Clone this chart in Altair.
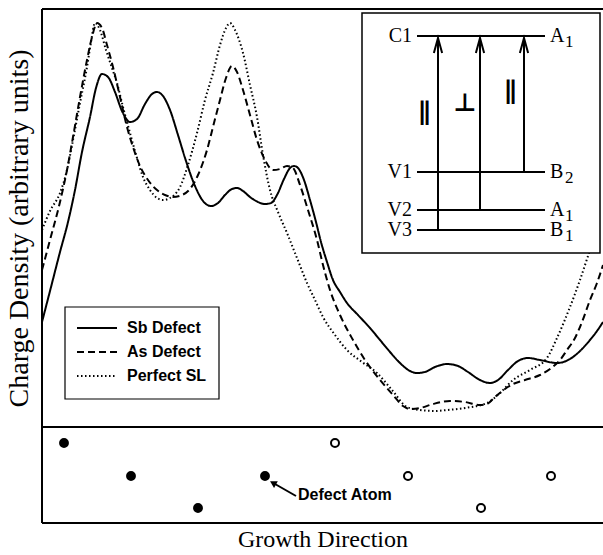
import altair as alt
import pandas as pd

# ---------------- data ----------------
series_names = ["Sb Defect", "As Defect", "Perfect SL"]

# position along growth direction (arb.) / charge density (arb. units)
sb_x = [0, 8, 18, 26, 33, 40, 48, 54, 60, 66, 73, 80, 88, 95, 103, 110, 115, 121, 128, 136, 144, 153, 161, 169,
        176, 183, 190, 195, 201, 208, 216, 223, 229, 235, 242, 248, 252, 256, 262, 268, 274, 279, 285, 291, 298,
        305, 316, 328, 338, 348, 358, 368, 375, 383, 393, 405, 416, 426, 438, 448, 456, 466, 476, 486, 498, 515,
        528, 538, 548, 555, 561]
sb_y = [105, 136, 175, 205, 237, 275, 310, 339, 353, 350, 335, 316, 305, 308, 323, 333, 335, 331, 317, 292, 266,
        241, 226, 221, 224, 232, 238, 239, 236, 230, 225, 223, 224, 232, 248, 259, 261, 259, 247, 227, 205, 185,
        165, 147, 135, 124, 112, 99, 87, 75, 64, 56, 54, 55, 60, 63, 61, 55, 47, 44, 47, 57, 66, 69, 67, 64, 68,
        76, 87, 96, 105]

as_x = [0, 8, 18, 25, 31, 38, 45, 50, 55, 60, 65, 71, 78, 85, 92, 98, 106, 115, 123, 131, 140, 148, 156, 165,
        172, 178, 184, 190, 195, 201, 208, 215, 223, 231, 238, 245, 251, 258, 266, 275, 281, 288, 298, 311, 323,
        338, 351, 361, 368, 378, 391, 408, 423, 438, 445, 453, 463, 471, 483, 498, 508, 518, 525, 533, 540, 548,
        555, 561]
as_y = [157, 187, 225, 257, 290, 330, 367, 390, 404, 399, 382, 360, 330, 300, 277, 261, 247, 237, 232, 230, 232,
        238, 252, 277, 304, 327, 349, 361, 355, 337, 312, 287, 267, 257, 258, 261, 259, 242, 217, 187, 162, 137,
        112, 87, 67, 47, 32, 21, 18, 19, 23, 26, 25, 22, 23, 30, 38, 43, 47, 52, 58, 67, 77, 89, 105, 127, 144,
        162]

sl_x = [0, 8, 18, 25, 31, 38, 45, 49, 53, 58, 64, 70, 75, 81, 88, 95, 101, 108, 115, 121, 128, 138, 146, 155,
        163, 171, 178, 184, 188, 193, 201, 208, 215, 221, 228, 236, 245, 255, 265, 273, 281, 293, 305, 320, 335,
        350, 365, 378, 393, 405, 423, 445, 458, 471, 488, 505, 515, 528, 538, 547, 555]
sl_y = [197, 216, 234, 257, 287, 324, 360, 385, 404, 397, 377, 359, 344, 320, 294, 269, 250, 237, 229, 227, 229,
        240, 262, 294, 327, 354, 382, 399, 404, 397, 374, 342, 310, 272, 237, 215, 194, 169, 144, 127, 110, 92,
        77, 65, 54, 37, 20, 17, 16, 17, 19, 24, 34, 47, 57, 69, 89, 120, 147, 174, 197]

# atoms along the growth direction (bottom strip)
atom_x = [22, 89, 156, 223, 293, 366, 439, 509]
atom_row = [80, 47, 15, 47, 80, 47, 15, 47]
atom_kind = ["filled", "filled", "filled", "filled", "open", "open", "open", "open"]

# "Defect Atom" annotation (bottom-strip units)
defect_label = ["Defect Atom"]
defect_label_x = [256]
defect_label_y = [28]
defect_arrow_x = [254, 233]
defect_arrow_y = [27, 39]

# inset: energy-level diagram (inset units)
inset_box_x = [0, 238]
inset_box_y = [0, 240]
level_names = ["C1", "V1", "V2", "V3"]
level_energy = [217, 81, 43, 23]
level_sym = ["A", "B", "A", "B"]
level_sub = ["1", "2", "1", "1"]
level_span = [55, 183]
trans_from = ["V3", "V2", "V1"]
trans_x = [76, 118, 162]
trans_pol = ["\u2225", "\u22a5", "\u2225"]
pol_x = [62, 103, 148]
pol_y = [141, 150, 162]

# legend placement (main-panel units)
legend_box_x = [23, 177]
legend_box_y = [28, 120]
legend_row_y = [99, 75, 51]
legend_sample_x = [35, 75]
legend_text_x = 85

# ---------------- tables ----------------
curve_df = pd.concat([
    pd.DataFrame({"series": series_names[0], "x": sb_x, "density": sb_y}),
    pd.DataFrame({"series": series_names[1], "x": as_x, "density": as_y}),
    pd.DataFrame({"series": series_names[2], "x": sl_x, "density": sl_y}),
], ignore_index=True)

leg_df = pd.DataFrame({"series": series_names, "density": legend_row_y,
                       "x": legend_sample_x[0], "x2": legend_sample_x[1], "tx": legend_text_x})
leg_box_df = pd.DataFrame({"x": [legend_box_x[0]], "x2": [legend_box_x[1]],
                           "density": [legend_box_y[0]], "density2": [legend_box_y[1]]})

atom_df = pd.DataFrame({"x": atom_x, "row": atom_row, "kind": atom_kind})
label_df = pd.DataFrame({"text": defect_label, "x": defect_label_x, "row": defect_label_y})
arrow_df = pd.DataFrame({"x": [defect_arrow_x[0]], "x2": [defect_arrow_x[1]],
                         "row": [defect_arrow_y[0]], "row2": [defect_arrow_y[1]]})
head_df = pd.DataFrame({"x": [defect_arrow_x[1] - 2], "row": [defect_arrow_y[1] + 1]})

energy_of = dict(zip(level_names, level_energy))
c1 = energy_of["C1"]
level_df = pd.DataFrame({"name": level_names, "E": level_energy, "sym": level_sym, "sub": level_sub,
                         "x0": level_span[0], "x1": level_span[1]})
trans_df = pd.DataFrame({"x": trans_x, "E0": [energy_of[n] for n in trans_from],
                         "E1": [c1 - 4] * len(trans_x), "Ehead": [c1 - 9.5] * len(trans_x)})
pol_df = pd.DataFrame({"text": trans_pol, "x": pol_x, "y": pol_y})
box_df = pd.DataFrame({"x0": [inset_box_x[0]], "x1": [inset_box_x[1]],
                       "y0": [inset_box_y[0]], "y1": [inset_box_y[1]]})

# ---------------- scales & axes ----------------
W, H = 561, 514
MAIN_H = 418
X_MAIN = alt.Scale(domain=[0, 561], range=[0, W], nice=False, zero=False)
Y_MAIN = alt.Scale(domain=[0, 418], range=[MAIN_H, 0], nice=False, zero=False)
Y_ATOM = alt.Scale(domain=[0, 96], range=[H, MAIN_H], nice=False, zero=False)
X_INSET = alt.Scale(domain=inset_box_x, range=[320, 558], nice=False, zero=False)
Y_INSET = alt.Scale(domain=inset_box_y, range=[244, 4], nice=False, zero=False)
DASH = alt.Scale(domain=series_names, range=[[1, 0], [7, 4], [1.5, 2.5]])
WIDTH = alt.Scale(domain=series_names, range=[2, 2, 1.5])

SERIF = "Liberation Serif"
SANS = "Liberation Sans"

AX_Y = alt.Axis(title="Charge Density (arbitrary units)", labels=False, ticks=False, domain=False,
                grid=False, titleFont=SERIF, titleFontSize=28, titleFontWeight="normal",
                titleColor="black", titlePadding=9, titleY=219)
AX_X = alt.Axis(title="Growth Direction", orient="bottom", labels=False, ticks=False, domain=False,
                grid=False, titleFont=SERIF, titleFontSize=24, titleFontWeight="normal",
                titleColor="black", titlePadding=4)

mx = lambda f: alt.X(f, scale=X_MAIN, axis=None)
my = lambda f: alt.Y(f, scale=Y_MAIN, axis=AX_Y)
sx = lambda f: alt.X(f, scale=X_MAIN, axis=AX_X)
sy = lambda f: alt.Y(f, scale=Y_ATOM, axis=None)
ix = lambda f: alt.X(f, scale=X_INSET, axis=None)
iy = lambda f: alt.Y(f, scale=Y_INSET, axis=None)

# ---------------- main curves + legend ----------------
curves = alt.Chart(curve_df).mark_line(interpolate="monotone", color="black").encode(
    x=mx("x:Q"), y=my("density:Q"),
    strokeDash=alt.StrokeDash("series:N", scale=DASH, legend=None),
    strokeWidth=alt.StrokeWidth("series:N", scale=WIDTH, legend=None),
)
leg_box = alt.Chart(leg_box_df).mark_rect(fill="white", stroke="black", strokeWidth=1.2).encode(
    x=mx("x:Q"), x2="x2:Q", y=my("density:Q"), y2="density2:Q")
leg_lines = alt.Chart(leg_df).mark_rule(color="black").encode(
    x=mx("x:Q"), x2="x2:Q", y=my("density:Q"),
    strokeDash=alt.StrokeDash("series:N", scale=DASH, legend=None),
    strokeWidth=alt.StrokeWidth("series:N", scale=WIDTH, legend=None),
)
leg_text = alt.Chart(leg_df).mark_text(align="left", baseline="middle", font=SANS, fontSize=16,
                                       fontWeight="bold", color="black").encode(
    x=mx("tx:Q"), y=my("density:Q"), text="series:N")
main = alt.layer(curves, leg_box, leg_lines, leg_text)

# ---------------- bottom strip ----------------
atoms = alt.Chart(atom_df).mark_circle(stroke="black", strokeWidth=2, opacity=1).encode(
    x=sx("x:Q"), y=sy("row:Q"),
    fill=alt.Fill("kind:N", scale=alt.Scale(domain=["filled", "open"], range=["black", "white"]), legend=None),
    size=alt.Size("kind:N", scale=alt.Scale(domain=["filled", "open"], range=[62, 64]), legend=None),
)
arrow_line = alt.Chart(arrow_df).mark_rule(color="black", strokeWidth=2).encode(
    x=sx("x:Q"), x2="x2:Q", y=sy("row:Q"), y2="row2:Q")
arrow_head = alt.Chart(head_df).mark_point(shape="triangle-up", filled=True, color="black",
                                           angle=299, size=60, opacity=1).encode(
    x=sx("x:Q"), y=sy("row:Q"))
atom_label = alt.Chart(label_df).mark_text(align="left", baseline="middle", font=SANS, fontSize=16,
                                           fontWeight="bold", color="black").encode(
    x=sx("x:Q"), y=sy("row:Q"), text="text:N")
strip = alt.layer(atoms, arrow_line, arrow_head, atom_label)

# ---------------- inset ----------------
box = alt.Chart(box_df).mark_rect(fill="white", stroke="black", strokeWidth=1.5).encode(
    x=ix("x0:Q"), x2="x1:Q", y=iy("y0:Q"), y2="y1:Q")
levels = alt.Chart(level_df).mark_rule(color="black", strokeWidth=2).encode(
    x=ix("x0:Q"), x2="x1:Q", y=iy("E:Q"))
left_lab = alt.Chart(level_df).mark_text(align="right", baseline="middle", font=SERIF, fontSize=20,
                                         color="black", dx=-5).encode(
    x=ix("x0:Q"), y=iy("E:Q"), text="name:N")
right_lab = alt.Chart(level_df).mark_text(align="left", baseline="middle", font=SERIF, fontSize=20,
                                          color="black", dx=5).encode(
    x=ix("x1:Q"), y=iy("E:Q"), text="sym:N")
right_sub = alt.Chart(level_df).mark_text(align="left", baseline="middle", font=SERIF, fontSize=17,
                                          color="black", dx=20, dy=6).encode(
    x=ix("x1:Q"), y=iy("E:Q"), text="sub:N")
arrows = alt.Chart(trans_df).mark_rule(color="black", strokeWidth=2).encode(
    x=ix("x:Q"), y=iy("E0:Q"), y2="E1:Q")
heads = alt.Chart(trans_df).mark_point(shape="M-0.55,1L0,-1L0.55,1", size=225, filled=False,
                                       color="black", strokeWidth=2, opacity=1).encode(
    x=ix("x:Q"), y=iy("Ehead:Q"))
pols = alt.Chart(pol_df).mark_text(align="center", baseline="middle", font="DejaVu Sans", fontSize=25,
                                   fontWeight="bold", color="black").encode(
    x=ix("x:Q"), y=iy("y:Q"), text="text:N")
inset = alt.layer(box, levels, left_lab, right_lab, right_sub, arrows, heads, pols)

# ---------------- frame ----------------
one = pd.DataFrame({"k": [0]})
frame = [
    alt.Chart(one).mark_rule(color="black", strokeWidth=2).encode(x=alt.value(0), x2=alt.value(W), y=alt.value(0)),
    alt.Chart(one).mark_rule(color="black", strokeWidth=2).encode(x=alt.value(0), y=alt.value(0), y2=alt.value(H)),
    alt.Chart(one).mark_rule(color="black", strokeWidth=2).encode(x=alt.value(0), x2=alt.value(W), y=alt.value(MAIN_H)),
    alt.Chart(one).mark_rule(color="black", strokeWidth=2).encode(x=alt.value(0), x2=alt.value(W), y=alt.value(H)),
]

chart = alt.layer(main, strip, inset, *frame).resolve_scale(
    x="independent", y="independent"
).properties(
    width=W, height=H,
    autosize=alt.AutoSizeParams(type="none"),
    padding={"left": 42, "top": 9, "right": 0, "bottom": 32},
    background="white",
).configure_view(strokeWidth=0)

chart.save("out.html", embed_options={"renderer": "svg", "actions": False})
